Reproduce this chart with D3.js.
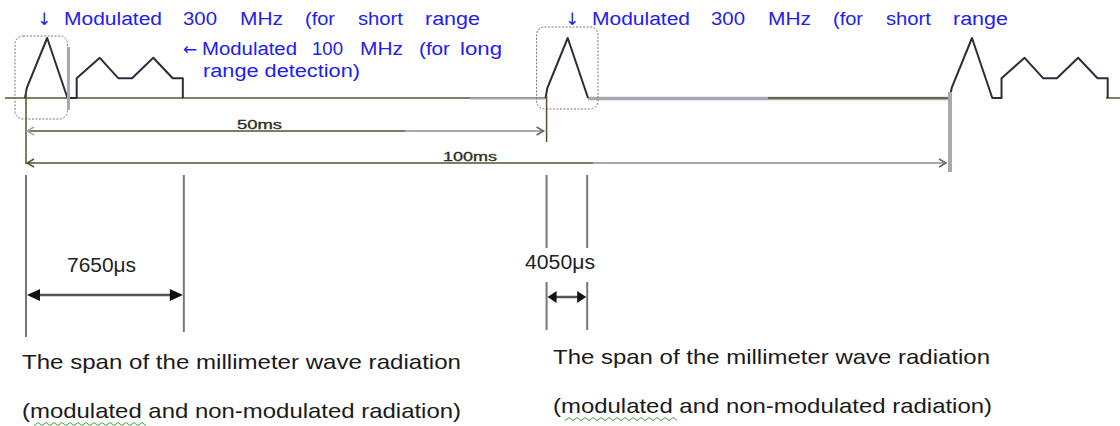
<!DOCTYPE html>
<html>
<head>
<meta http-equiv="Content-type" content="text/html; charset=utf-8">
<title>Radiation timing</title>
<script src="https://cdn.jsdelivr.net/npm/d3@7"></script>
<style>
  body { margin: 0; background: #fff; }
  svg { display: block; }
</style>
</head>
<body>
<script>

// ---- DATA (diagram time units) ----
// one burst: short 300 MHz pulse then the 100 MHz two-hump part
var burstTime  = [0, 0.2, 2.4, 4.6, 5.6, 5.6, 8.1, 10.1, 11.6, 13.9, 16.0, 17.1, 17.1];
var burstLevel = [0, 0.17, 1, 0, 0, 0.33, 0.67, 0.33, 0.33, 0.67, 0.33, 0.33, 0];
var shortPulseLen = 4;                  // points used by the short pulse only
var pulseStarts = [0, 56.4, 100.2];
var pulseKinds  = ["full", "short", "full"];

var spanLabels = ["50ms", "100ms"];
var spanFrom   = [0, 0];
var spanTo     = [56.4, 100];

var dimLabels = ["7650\u03bcs", "4050\u03bcs"];
var dimFrom   = [0, 56.4];
var dimTo     = [17.1, 60.8];

var note300  = ["\u2193", "Modulated", "300", "MHz", "(for", "short", "range"];
var note100  = ["\u2190", "Modulated", "100", "MHz", "(for", "long"];
var note100b = ["range detection)"];
var spanText = ["The span of the millimeter wave radiation",
                "(modulated and non-modulated radiation)"];

// ---- LAYOUT ----
var W = 1120, H = 426;
var olive = "#56522e", grey = "#a8a8b0", wave = "#2c2c3c", blue = "#2020f0";

var x = d3.scaleLinear().domain([0, 100]).range([25, 948]);
var y = d3.scaleLinear().domain([0, 1]).range([98, 38]);

var svg = d3.select("body").append("svg").attr("width", W).attr("height", H);

// baseline
svg.append("line").attr("x1", 5).attr("x2", x(pulseStarts[1])).attr("y1", y(0)).attr("y2", y(0))
  .attr("stroke", olive).attr("stroke-width", 1.5);
svg.append("line").attr("x1", 470).attr("x2", x(pulseStarts[1])).attr("y1", y(0) + 0.5).attr("y2", y(0) + 0.5)
  .attr("stroke", grey).attr("stroke-width", 2);
svg.append("line").attr("x1", 588).attr("x2", x(pulseStarts[2])).attr("y1", y(0) + 0.5).attr("y2", y(0) + 0.5)
  .attr("stroke", grey).attr("stroke-width", 3.5);
svg.append("line").attr("x1", 768).attr("x2", x(pulseStarts[2])).attr("y1", y(0)).attr("y2", y(0))
  .attr("stroke", olive).attr("stroke-width", 1.5);
svg.append("line").attr("x1", 1106).attr("x2", W).attr("y1", y(0)).attr("y2", y(0))
  .attr("stroke", olive).attr("stroke-width", 1.5);

// the bursts
var line = d3.line().x(function(d) { return x(d[0]); }).y(function(d) { return y(d[1]); });
pulseStarts.forEach(function(t0, i) {
  var n = pulseKinds[i] == "short" ? shortPulseLen : burstTime.length;
  var pts = [];
  for (var k = 0; k < n; k++) pts.push([t0 + burstTime[k], burstLevel[k]]);
  svg.append("path").attr("d", line(pts)).attr("fill", "none")
    .attr("stroke", wave).attr("stroke-width", 2).attr("stroke-linejoin", "round");
});

// dashed boxes round the short pulses
var boxes = [{t: pulseStarts[0], x0: -10, x1: 0, y0: 36, y1: 119},
             {t: pulseStarts[1], x0: -9, x1: 10, y0: 27, y1: 109}];
boxes.forEach(function(b) {
  svg.append("rect")
    .attr("x", x(b.t) + b.x0).attr("y", b.y0)
    .attr("width", x(b.t + burstTime[3]) + b.x1 - x(b.t) - b.x0).attr("height", b.y1 - b.y0)
    .attr("rx", 8).attr("fill", "none").attr("stroke", "#777")
    .attr("stroke-width", 1).attr("stroke-dasharray", "2,1.5");
});
svg.append("line").attr("x1", x(4.6) + 1).attr("x2", x(4.6) + 1).attr("y1", 47).attr("y2", 110)
  .attr("stroke", grey).attr("stroke-width", 3);

// 50ms / 100ms spans
svg.append("line").attr("x1", x(0) + 1).attr("x2", x(0) + 1).attr("y1", 90).attr("y2", 164)
  .attr("stroke", olive).attr("stroke-width", 1.5);
svg.append("line").attr("x1", x(spanTo[0]) + 1).attr("x2", x(spanTo[0]) + 1).attr("y1", 96).attr("y2", 142)
  .attr("stroke", olive).attr("stroke-width", 1.5);
svg.append("line").attr("x1", x(spanTo[1]) + 2).attr("x2", x(spanTo[1]) + 2).attr("y1", 92).attr("y2", 172)
  .attr("stroke", grey).attr("stroke-width", 4);

var spanY = [131, 163], spanGreyFrom = [405, 593], spanTextX = [237, 443];
spanLabels.forEach(function(lab, i) {
  var a = x(spanFrom[i]) + 2, b = x(spanTo[i]) - 2, yy = spanY[i];
  svg.append("line").attr("x1", a).attr("x2", spanGreyFrom[i]).attr("y1", yy).attr("y2", yy)
    .attr("stroke", olive).attr("stroke-width", 1.5);
  svg.append("line").attr("x1", spanGreyFrom[i]).attr("x2", b).attr("y1", yy).attr("y2", yy)
    .attr("stroke", grey).attr("stroke-width", 2);
  svg.append("path").attr("d", "M" + (a + 7) + "," + (yy - 4) + "L" + a + "," + yy + "L" + (a + 7) + "," + (yy + 4))
    .attr("fill", "none").attr("stroke", i == 0 ? grey : olive).attr("stroke-width", 1.5);
  svg.append("path").attr("d", "M" + (b - 7) + "," + (yy - 4) + "L" + b + "," + yy + "L" + (b - 7) + "," + (yy + 4))
    .attr("fill", "none").attr("stroke", "#666").attr("stroke-width", 1.5);
  svg.append("text").attr("x", spanTextX[i]).attr("y", yy - 2)
    .attr("font-family", "Liberation Sans, Arial, sans-serif").attr("font-size", 12)
    .attr("fill", "#2e2e22").attr("stroke", "#2e2e22").attr("stroke-width", 0.3)
    .attr("textLength", i == 0 ? 45 : 54).attr("lengthAdjust", "spacingAndGlyphs")
    .text(lab);
});

// dimension markers under the trace
var dimY = [295, 297], dimTextY = [272, 269], dimBottom = [[337, 332], [330, 330]];
dimLabels.forEach(function(lab, i) {
  var a = x(dimFrom[i]) + 1, b = x(dimTo[i]) + 1;
  if (i == 0) {
    [a, b].forEach(function(xx, j) {
      svg.append("line").attr("x1", xx).attr("x2", xx).attr("y1", 175).attr("y2", dimBottom[i][j])
        .attr("stroke", "#777").attr("stroke-width", 2);
    });
  } else {
    [a, b].forEach(function(xx, j) {
      svg.append("line").attr("x1", xx).attr("x2", xx).attr("y1", 175).attr("y2", 248)
        .attr("stroke", "#777").attr("stroke-width", 2);
      svg.append("line").attr("x1", xx).attr("x2", xx).attr("y1", 282).attr("y2", dimBottom[i][j])
        .attr("stroke", "#777").attr("stroke-width", 2);
    });
  }
  svg.append("line").attr("x1", a + 4).attr("x2", b - 4).attr("y1", dimY[i]).attr("y2", dimY[i])
    .attr("stroke", "#555").attr("stroke-width", 2.5);
  var ah = i == 0 ? 14 : 10;
  svg.append("path").attr("d", "M" + (a + 1) + "," + dimY[i] + "L" + (a + ah) + "," + (dimY[i] - 6) + "L" + (a + ah) + "," + (dimY[i] + 6) + "Z")
    .attr("fill", "#111");
  svg.append("path").attr("d", "M" + (b - 1) + "," + dimY[i] + "L" + (b - ah) + "," + (dimY[i] - 6) + "L" + (b - ah) + "," + (dimY[i] + 6) + "Z")
    .attr("fill", "#111");
  svg.append("text").attr("x", i == 0 ? 67 : 525).attr("y", dimTextY[i])
    .attr("font-family", "Liberation Sans, Arial, sans-serif").attr("font-size", 20)
    .attr("fill", "#222").attr("textLength", i == 0 ? 69 : 70).attr("lengthAdjust", "spacingAndGlyphs")
    .text(lab);
});

// blue notes, word by word (arrows in DejaVu at a larger size, not squeezed)
function words(list, spans, dx, yy) {
  list.forEach(function(w, i) {
    var arrow = w == "\u2193" || w == "\u2190";
    var t = svg.append("text").attr("x", spans[i][0] + dx).attr("y", yy)
      .attr("font-family", arrow ? "DejaVu Sans, sans-serif" : "Liberation Sans, Arial, sans-serif")
      .attr("font-size", arrow ? 17 : 18)
      .attr("fill", blue).text(w);
    if (!arrow) t.attr("textLength", spans[i][1] - spans[i][0]).attr("lengthAdjust", "spacingAndGlyphs");
  });
}
var span300 = [[37, 48], [64, 162], [183, 217], [240, 283], [305, 335], [358, 403], [425, 480]];
words(note300, span300, 0, 25);
words(note300, span300, 528, 25);
words(note100, [[183, 199], [202, 297], [312, 343], [360, 403], [419, 450], [460, 502]], 0, 55);
words(note100b, [[203, 360]], 0, 77);

// span captions at the bottom
var capX = [22, 553], capY = [[369, 418], [364, 413]], capW = [[439, 439], [437, 439]];
capX.forEach(function(cx, b) {
  spanText.forEach(function(s, k) {
    svg.append("text").attr("x", cx).attr("y", capY[b][k])
      .attr("font-family", "Liberation Sans, Arial, sans-serif").attr("font-size", 21)
      .attr("fill", "#1a1a1a").attr("textLength", capW[b][k]).attr("lengthAdjust", "spacingAndGlyphs")
      .text(s);
  });
  // spell-check squiggle under "modulated"
  var zz = "", x0 = cx + 12, yy = capY[b][1] + 6;
  for (var i = 0; i <= 28; i++) zz += (i == 0 ? "M" : "L") + (x0 + i * 4) + "," + (yy + (i % 2 ? -1.5 : 1.5));
  svg.append("path").attr("d", zz).attr("fill", "none").attr("stroke", "#3aa83a").attr("stroke-width", 1);
});

</script>
</body>
</html>
